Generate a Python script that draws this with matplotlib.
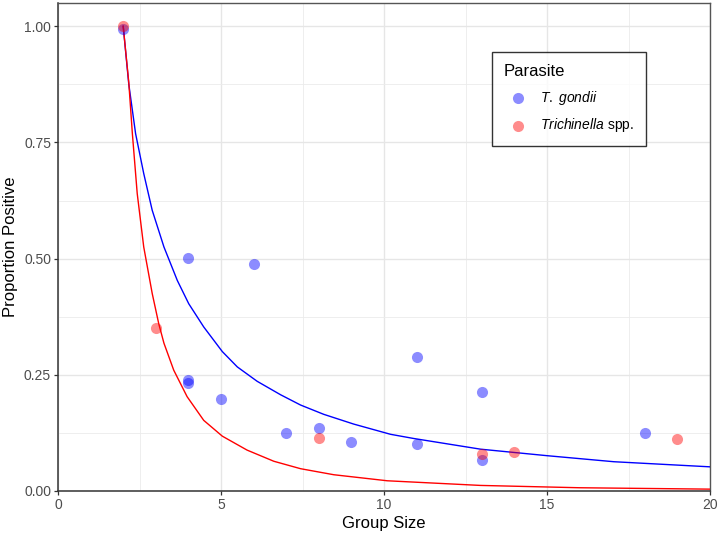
import matplotlib
matplotlib.use("Agg")
import matplotlib.pyplot as plt
from matplotlib.ticker import MultipleLocator, FormatStrFormatter

plt.rcParams['font.family'] = ['Liberation Sans', 'DejaVu Sans']
plt.rcParams['mathtext.fontset'] = 'custom'
plt.rcParams['mathtext.rm'] = 'Liberation Sans'
plt.rcParams['mathtext.it'] = 'Liberation Sans:italic'

# observed proportions by group size
tg_size = [2, 4, 6, 4, 4, 5, 7, 8, 9, 11, 11, 13, 13, 18]
tg_prop = [0.995, 0.501, 0.488, 0.238, 0.232, 0.198, 0.124, 0.135, 0.106, 0.289, 0.101, 0.212, 0.067, 0.124]

tr_size = [2, 3, 8, 13, 14, 19]
tr_prop = [1.0, 0.350, 0.115, 0.079, 0.083, 0.111]

# fitted curves
tg_fit_x = [2.0, 2.17, 2.38, 2.63, 2.89, 3.25, 3.66, 4.01, 4.47, 5.04, 5.5, 6.11, 6.83,
            7.44, 8.15, 9.07, 10.2, 10.91, 12.96, 15.0, 17.05, 20.0]
tg_fit_y = [1.0, 0.876, 0.769, 0.683, 0.604, 0.525, 0.453, 0.403, 0.353, 0.300, 0.267, 0.236,
            0.207, 0.185, 0.165, 0.144, 0.122, 0.113, 0.090, 0.076, 0.063, 0.052]

tr_fit_x = [2.0, 2.17, 2.28, 2.43, 2.63, 2.89, 3.09, 3.25, 3.55, 3.96, 4.47, 5.04, 5.8,
            6.62, 7.44, 8.46, 10.1, 12.96, 16.0, 20.0]
tr_fit_y = [1.0, 0.88, 0.77, 0.64, 0.525, 0.425, 0.36, 0.318, 0.26, 0.203, 0.152, 0.118,
            0.088, 0.064, 0.048, 0.035, 0.022, 0.012, 0.007, 0.004]

fig = plt.figure(figsize=(7.21, 5.39), dpi=100)
ax = fig.add_axes([58 / 721, 1 - 491 / 539, 652 / 721, 488 / 539])

ax.plot(tg_fit_x, tg_fit_y, color='#0000FF', lw=1.0, zorder=3)
ax.plot(tr_fit_x, tr_fit_y, color='#FF0000', lw=1.0, zorder=3)
p1 = ax.scatter(tg_size, tg_prop, s=64, color='#0000FF', alpha=0.45, linewidths=0, zorder=4)
p2 = ax.scatter(tr_size, tr_prop, s=64, color='#FF0000', alpha=0.45, linewidths=0, zorder=4)

ax.set_xlim(0, 20)
ax.set_ylim(0, 1.05)
ax.xaxis.set_major_locator(MultipleLocator(5))
ax.xaxis.set_minor_locator(MultipleLocator(2.5))
ax.yaxis.set_major_locator(MultipleLocator(0.25))
ax.yaxis.set_minor_locator(MultipleLocator(0.125))
ax.yaxis.set_major_formatter(FormatStrFormatter('%.2f'))

ax.grid(which='major', color='#E6E6E6', lw=1.0)
ax.grid(which='minor', color='#EBEBEB', lw=0.6)
ax.set_axisbelow(True)

ax.tick_params(which='major', length=3, width=0.9, color='#333333',
               labelsize=10, labelcolor='#4D4D4D', pad=2)
ax.tick_params(which='minor', length=0)
for side in ['left', 'bottom']:
    ax.spines[side].set_color('#333333')
    ax.spines[side].set_linewidth(1.1)
for side in ['top', 'right']:
    ax.spines[side].set_color('#555555')
    ax.spines[side].set_linewidth(1.0)

ax.set_xlabel('Group Size', fontsize=12, color='black', labelpad=3)
ax.set_ylabel('Proportion Positive', fontsize=12, color='black', labelpad=4)

leg = ax.legend([p1, p2], [r'$\mathit{T.\ gondii}$', r'$\mathit{Trichinella}$ spp.'],
                title='Parasite', loc='upper left',
                bbox_to_anchor=(492 / 721, 1 - 52 / 539), bbox_transform=fig.transFigure,
                frameon=True, fancybox=False, edgecolor='black', fontsize=10,
                title_fontsize=12, borderpad=0.85, handletextpad=0.6, labelspacing=0.7,
                borderaxespad=0)
leg.get_frame().set_linewidth(1.0)
leg._legend_box.align = 'left'

fig.savefig('out.png', dpi=100)
